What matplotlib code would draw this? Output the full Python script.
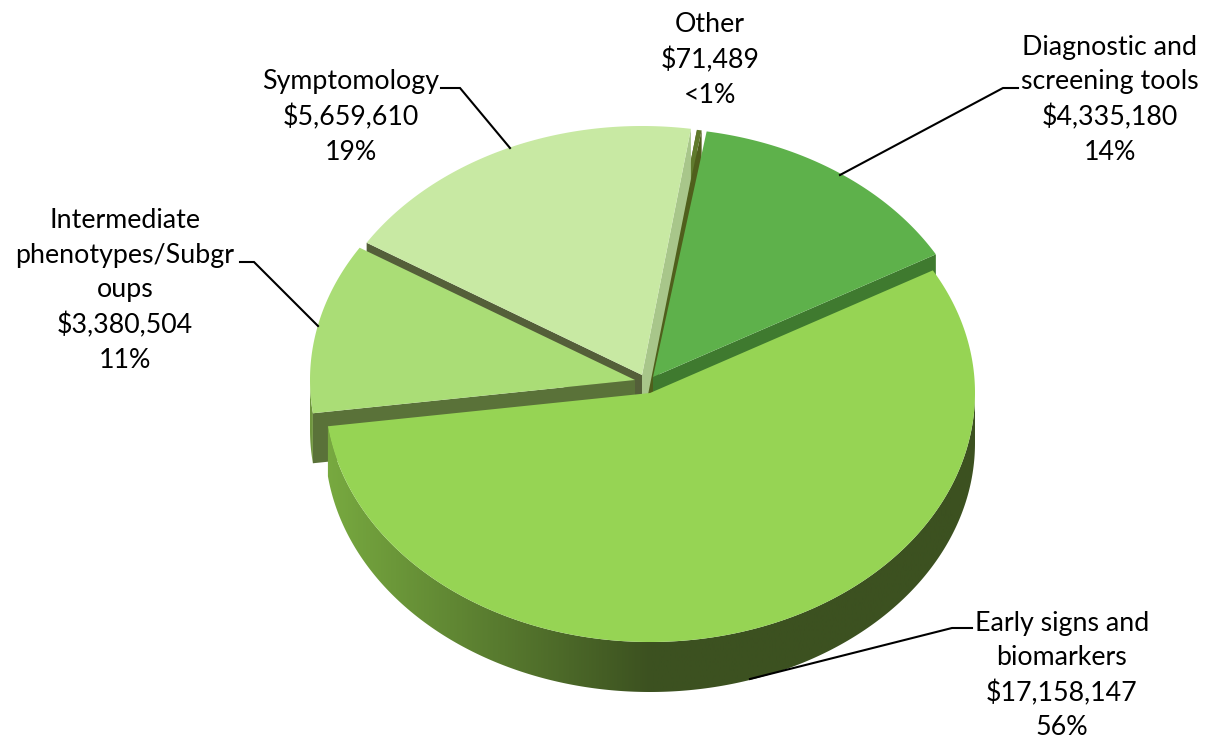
import numpy as np
import matplotlib
matplotlib.use("Agg")
import matplotlib.pyplot as plt
from matplotlib.patches import Polygon
from matplotlib.colors import LinearSegmentedColormap

# data, clockwise from the top of the pie
categories = ["Diagnostic and\nscreening tools", "Early signs and\nbiomarkers",
              "Intermediate\nphenotypes/Subgr\noups", "Symptomology", "Other"]
values = [4335180, 17158147, 3380504, 5659610, 71489]
percent_labels = ["14%", "56%", "11%", "19%", "<1%"]

# style
face_colors = ["#5EB14B", "#96D454", "#AADD76", "#C8E9A3", "#5F7A2C"]
start_cut = [None, None, "#5A7239", "#545F39", "#4F5F1C"]
end_cut = ["#3F7A2F", None, None, "#A8C68A", "#4F5F1C"]
apex_x = [653, 650, 635, 642, 648]
apex_y = [377, 393, 380, 375, 376]
RX, RY, DEPTH = 325, 249, 50
START = 80.5

W, H = 1209, 742
fig = plt.figure(figsize=(W / 100, H / 100), dpi=100, facecolor="white")
ax = fig.add_axes([0, 0, 1, 1])

fracs = np.array(values, dtype=float) / sum(values)
ends = START - np.cumsum(fracs) * 360
starts = np.r_[START, ends[:-1]]
wall_cmap = LinearSegmentedColormap.from_list("wall", ["#78AA40", "#3C5120", "#3C5120"])


def arc(i, a=None, b=None, n=300):
    t = np.radians(np.linspace(starts[i] if a is None else a, ends[i] if b is None else b, n))
    return apex_x[i] + RX * np.cos(t), apex_y[i] - RY * np.sin(t)


def draw(i, z):
    x, y = arc(i)
    ax0, ay0 = apex_x[i], apex_y[i]
    # cut walls
    for (ex, ey), col in (((x[0], y[0]), start_cut[i]), ((x[-1], y[-1]), end_cut[i])):
        if col:
            ax.fill([ax0, ex, ex, ax0], [ay0, ey, ey + DEPTH, ay0 + DEPTH], color=col, lw=0, zorder=z)
    # outer wall, front part of the rim only
    if i == 1:
        wx, wy = arc(i, 0, ends[i])
        clip = Polygon(np.c_[np.r_[wx, wx[::-1]], np.r_[wy, wy[::-1] + DEPTH]],
                       closed=True, transform=ax.transData, fc="none", ec="none")
        ax.add_patch(clip)
        grad = np.linspace(0, 1, 512)[None, :]
        im = ax.imshow(grad, extent=(325, 975, 760, 270), cmap=wall_cmap, aspect="auto", zorder=z + 0.1)
        im.set_clip_path(clip)
    elif i == 2:
        wx, wy = arc(i, starts[i], -180)
        ax.fill(np.r_[wx, wx[::-1]], np.r_[wy, wy[::-1] + DEPTH], color="#6F963F", lw=0, zorder=z + 0.1)
    # top face
    ax.fill(np.r_[ax0, x], np.r_[ay0, y], color=face_colors[i], lw=0, zorder=z + 0.2)


# back to front
for z, i in enumerate([4, 3, 0, 2, 1]):
    draw(i, z + 1)

# leader lines
leaders = [([1018, 1003, 840], [88, 88, 175]),
           ([972, 952, 750], [628, 628, 679]),
           ([240, 254, 318], [262, 262, 326]),
           ([441, 460, 510], [88, 88, 148])]
for lx, ly in leaders:
    ax.plot(lx, ly, color="black", lw=1.5, zorder=10, solid_joinstyle="miter")

# labels
label_pos = [(1110, 100), (1062, 675.5), (125, 290.5), (351, 117), (710, 60)]
amounts = ["${:,}".format(v) for v in values]
for name, amount, pct, (px, py) in zip(categories, amounts, percent_labels, label_pos):
    ax.text(px, py, f"{name}\n{amount}\n{pct}", ha="center", va="center",
            fontsize=19.3, family="Lato", linespacing=1.47, color="black", zorder=11)

ax.set_xlim(0, W)
ax.set_ylim(H, 0)
ax.axis("off")
fig.savefig("out.png", dpi=100, facecolor="white")
